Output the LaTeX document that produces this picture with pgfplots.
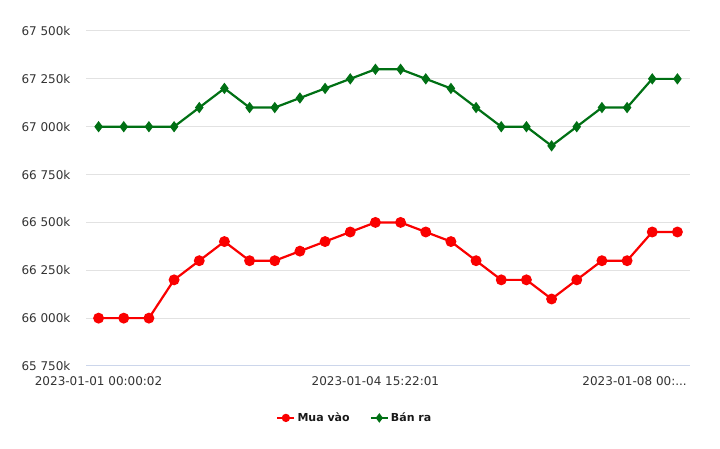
\documentclass[border=0pt]{standalone}
\usepackage{pgfplots}
\pgfplotsset{compat=1.18}
\usepackage{fontspec}
\setmainfont{DejaVu Sans}
\definecolor{redc}{RGB}{250,0,0}
\definecolor{greenc}{RGB}{0,112,20}
\definecolor{gridc}{RGB}{226,226,226}
\definecolor{axisc}{RGB}{204,214,235}
\definecolor{textc}{RGB}{51,51,51}
\begin{document}
\begin{tikzpicture}[x=1pt,y=1pt]
\path[use as bounding box] (0,0) rectangle (720,449);
\begin{axis}[
 at={(86pt,83pt)}, anchor=south west,
 scale only axis, width=604pt, height=335pt,
 xmin=-0.5, xmax=23.5, ymin=65750, ymax=67500,
 scaled y ticks=false,
 ytick={65750,66000,66250,66500,66750,67000,67250,67500},
 yticklabels={65 750k,66 000k,66 250k,66 500k,66 750k,67 000k,67 250k,67 500k},
 xtick={0,11,21.3},
 xticklabels={2023-01-01 00:00:02,2023-01-04 15:22:01,{2023-01-08 00:.{}.{}.}},
 ymajorgrids, grid style={gridc, line width=1pt},
 axis x line*=bottom, axis y line*=left,
 x axis line style={axisc, line width=1pt},
 y axis line style={draw=none},
 major tick length=0pt,
 tick label style={font=\fontsize{12}{14}\selectfont, text=textc},
 yticklabel style={xshift=-12pt},
 xticklabel style={yshift=-7pt},
 legend columns=2,
 legend cell align=left,
 legend image post style={mark size=3pt},
 legend style={at={(0.445,-0.155)}, anchor=center, draw=none, fill=none,
   font=\bfseries\fontsize{11}{13}\selectfont, text=black!90,
   /tikz/every even column/.append style={column sep=18pt}},
]
\addplot[redc, line width=2.2pt, mark=*, mark size=4.3pt, mark options={solid}] coordinates {
(0,66000)(1,66000)(2,66000)(3,66200)(4,66300)(5,66400)(6,66300)(7,66300)
(8,66350)(9,66400)(10,66450)(11,66500)(12,66500)(13,66450)(14,66400)(15,66300)
(16,66200)(17,66200)(18,66100)(19,66200)(20,66300)(21,66300)(22,66450)(23,66450)};
\addlegendentry{Mua vào}
\addplot[greenc, line width=2.2pt, mark=diamond*, mark size=3.9pt, mark options={solid}] coordinates {
(0,67000)(1,67000)(2,67000)(3,67000)(4,67100)(5,67200)(6,67100)(7,67100)
(8,67150)(9,67200)(10,67250)(11,67300)(12,67300)(13,67250)(14,67200)(15,67100)
(16,67000)(17,67000)(18,66900)(19,67000)(20,67100)(21,67100)(22,67250)(23,67250)};
\addlegendentry{Bán ra}
\end{axis}
\end{tikzpicture}
\end{document}
